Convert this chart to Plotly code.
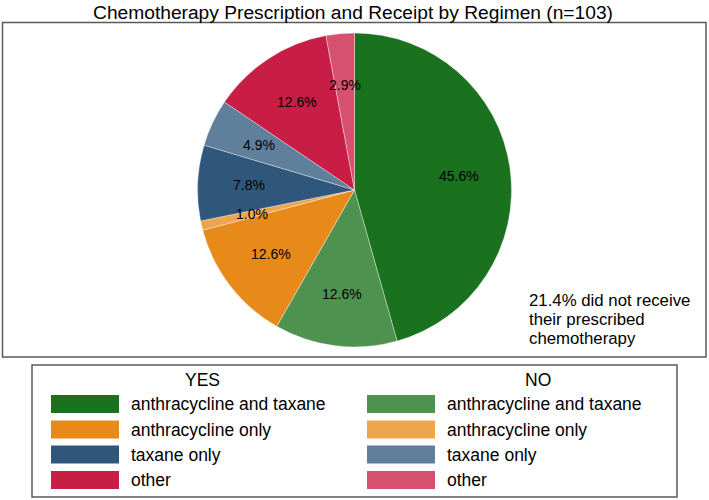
import math
import plotly.graph_objects as go

# ---- data ----
title_text = "Chemotherapy Prescription and Receipt by Regimen (n=103)"
regimens = ["anthracycline and taxane", "anthracycline only", "taxane only", "other"]
groups = ["YES", "NO"]
yes_counts = [47, 13, 8, 13]
no_counts = [13, 1, 5, 3]
yes_colors = ["#1a711e", "#e78a1a", "#2f577b", "#c81d45"]
no_colors = ["#4e9250", "#eda64d", "#5f7f9b", "#d65170"]
note_lines = ["21.4% did not receive", "their prescribed", "chemotherapy"]

# interleave slices: YES then NO for each regimen
labels, values, colors = [], [], []
for i, r in enumerate(regimens):
    labels += [f"YES {r}", f"NO {r}"]
    values += [yes_counts[i], no_counts[i]]
    colors += [yes_colors[i], no_colors[i]]

W, H = 709, 500
FONT = "Liberation Sans, Arial, Helvetica, sans-serif"
cx, cy, R = 354.5, 190.0, 157.0

fig = go.Figure()
fig.add_trace(go.Pie(
    labels=labels, values=values, sort=False, direction="clockwise", rotation=0,
    marker=dict(colors=colors, line=dict(color="rgba(255,255,255,0.6)", width=0.6)),
    textinfo="none", hoverinfo="label+percent+value", showlegend=False,
    domain=dict(x=[0, 1], y=[(H - (cy + R)) / H, (H - (cy - R)) / H]),
))

annotations = []
shapes = []
# slice percent labels at mid-angles
total = sum(values)
cum = 0
for v in values:
    mid = (cum + v / 2) / total * 2 * math.pi
    cum += v
    d = 0.67 * R
    px = cx + d * math.sin(mid)
    py = cy - d * math.cos(mid)
    annotations.append(dict(
        x=px / W, y=1 - py / H, xref="paper", yref="paper", showarrow=False,
        text=f"{100 * v / total:.1f}%", font=dict(family=FONT, size=14, color="black"),
        xanchor="center", yanchor="middle"))

# note text
for k, line in enumerate(note_lines):
    annotations.append(dict(
        x=527 / W, y=1 - (300 + 19 * k) / H, xref="paper", yref="paper", showarrow=False,
        text=line, font=dict(family=FONT, size=16.8, color="black"),
        xanchor="left", yanchor="middle"))

# plot frame
shapes.append(dict(type="rect", xref="paper", yref="paper",
                   x0=2.5 / W, x1=706 / W, y0=1 - 357 / H, y1=1 - 22.5 / H,
                   line=dict(color="#5a5a5a", width=1.5)))
# legend frame
shapes.append(dict(type="rect", xref="paper", yref="paper",
                   x0=32 / W, x1=677 / W, y0=1 - 497 / H, y1=1 - 365 / H,
                   line=dict(color="#5a5a5a", width=1.5)))

col_swatch_x = [51, 367]
col_header_x = [202, 538]
group_colors = [yes_colors, no_colors]
row_y = [404, 429.5, 454.5, 480]
for g in range(2):
    annotations.append(dict(
        x=col_header_x[g] / W, y=1 - 380 / H, xref="paper", yref="paper", showarrow=False,
        text=groups[g], font=dict(family=FONT, size=17.5, color="black"),
        xanchor="center", yanchor="middle"))
    for i, r in enumerate(regimens):
        x0 = col_swatch_x[g]
        yc = row_y[i]
        shapes.append(dict(type="rect", xref="paper", yref="paper",
                           x0=x0 / W, x1=(x0 + 68) / W,
                           y0=1 - (yc + 9) / H, y1=1 - (yc - 9) / H,
                           fillcolor=group_colors[g][i], line=dict(width=0)))
        annotations.append(dict(
            x=(x0 + 78) / W, y=1 - yc / H, xref="paper", yref="paper", showarrow=False,
            text=r, font=dict(family=FONT, size=17.5, color="black"),
            xanchor="left", yanchor="middle"))

fig.update_layout(
    width=W, height=H, margin=dict(l=0, r=0, t=0, b=0),
    paper_bgcolor="white", plot_bgcolor="white",
    title=dict(text=title_text, x=353 / W, xanchor="center", y=1 - 12 / H, yanchor="middle",
               yref="container", font=dict(family=FONT, size=19.2, color="black")),
    annotations=annotations, shapes=shapes,
)

fig.write_html("out.html", config={"displayModeBar": False},
               post_script="document.body.style.margin='0px';document.body.style.overflow='hidden';")
